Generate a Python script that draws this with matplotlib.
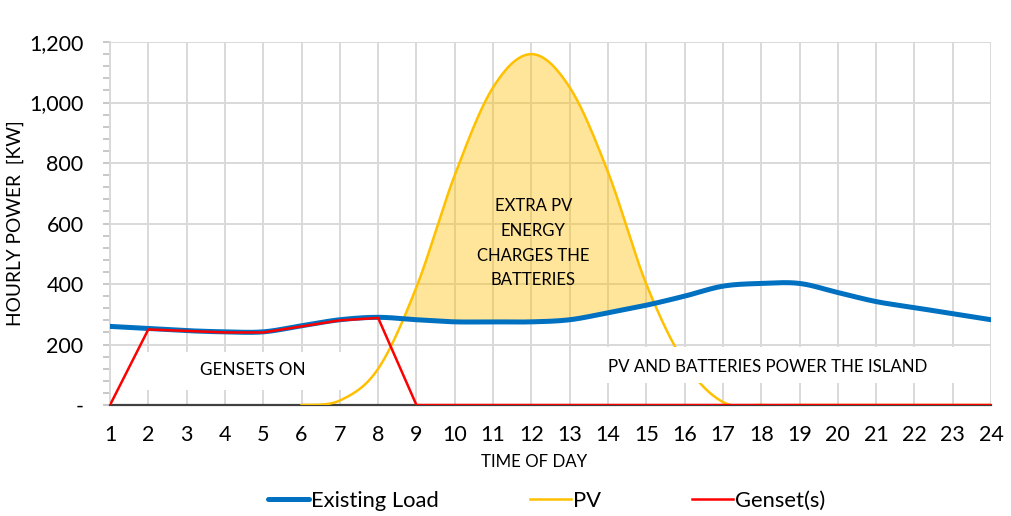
import numpy as np
import matplotlib
matplotlib.use("Agg")
import matplotlib.pyplot as plt
from matplotlib.patches import Rectangle
from matplotlib.ticker import FuncFormatter, MultipleLocator

plt.rcParams["font.family"] = ["Lato", "DejaVu Sans"]

# hourly values
hours = list(range(1, 25))
existing_load = [260, 253, 246, 242, 242, 262, 282, 290, 282, 275, 275, 275,
                 282, 305, 330, 360, 393, 402, 402, 372, 342, 322, 302, 282]
pv_hours = list(range(6, 25))
pv = [0, 15, 120, 390, 760, 1050, 1160, 1050, 770, 400, 140, 10,
      0, 0, 0, 0, 0, 0, 0]
genset = [0, 250, 245, 240, 240, 260, 280, 288, 0, 0, 0, 0,
          0, 0, 0, 0, 0, 0, 0, 0, 0, 0, 0, 0]

BLUE = "#0070C0"
YELLOW = "#FFC000"
RED = "#FF0000"
GRID = "#D9D9D9"


def smooth(x, y, n=30):
    """Catmull-Rom curve through the points, like Excel's smoothed line."""
    p = np.column_stack([x, y]).astype(float)
    p = np.vstack([p[0], p, p[-1]])
    out = []
    t = np.linspace(0, 1, n, endpoint=False)[:, None]
    for i in range(1, len(p) - 2):
        p0, p1, p2, p3 = p[i - 1], p[i], p[i + 1], p[i + 2]
        seg = 0.5 * (2 * p1 + (-p0 + p2) * t
                     + (2 * p0 - 5 * p1 + 4 * p2 - p3) * t ** 2
                     + (-p0 + 3 * p1 - 3 * p2 + p3) * t ** 3)
        out.append(seg)
    out.append(p[-2][None, :])
    out = np.vstack(out)
    return out[:, 0], out[:, 1]


fig = plt.figure(figsize=(10.12, 5.16), dpi=100)
ax = fig.add_axes([0.1087, 0.215, 0.8706, 0.7036])

lx, ly = smooth(hours, existing_load)
px, py = smooth(pv_hours, pv)
py_on_l = np.interp(lx, px, py, left=0, right=0)

ax.fill_between(lx, ly, py_on_l, where=py_on_l > ly, interpolate=True,
                color=YELLOW, alpha=0.4, linewidth=0, zorder=2)
ax.plot(lx, ly, color=BLUE, lw=3.6, solid_capstyle="round", zorder=4,
        label="Existing Load")
ax.plot(px, py, color=YELLOW, lw=1.8, zorder=3, label="PV")
ax.plot(hours, genset, color=RED, lw=1.8, zorder=5, label="Genset(s)")

# white label boxes
ax.add_patch(Rectangle((1.85, 50), 5.75, 125, facecolor="white",
                       edgecolor="none", zorder=1.5))
ax.text(4.73, 116, "GENSETS ON", ha="center", va="center", fontsize=12.3,
        zorder=6)
ax.add_patch(Rectangle((13.2, 73), 10.0, 119, facecolor="white",
                       edgecolor="none", zorder=3.5))
ax.text(18.18, 125, "PV AND BATTERIES POWER THE ISLAND", ha="center",
        va="center", fontsize=12.2, zorder=6)
ax.text(12.05, 535, "EXTRA PV\nENERGY\nCHARGES THE\nBATTERIES",
        ha="center", va="center", fontsize=12, linespacing=1.68, zorder=6)

ax.set_xlim(1, 24)
ax.set_ylim(0, 1200)
ax.set_xticks(hours)
ax.yaxis.set_major_locator(MultipleLocator(200))
ax.yaxis.set_minor_locator(MultipleLocator(40))
ax.yaxis.set_major_formatter(
    FuncFormatter(lambda v, _: "-" if v == 0 else f"{v:,.0f}"))
ax.grid(True, which="major", color=GRID, lw=1.4, zorder=0)
ax.set_axisbelow(True)
for s in ["top", "right"]:
    ax.spines[s].set_visible(False)
ax.spines["left"].set_color(GRID)
ax.spines["left"].set_linewidth(1.4)
ax.spines["bottom"].set_color("#404040")
ax.spines["bottom"].set_linewidth(1.6)
ax.spines["bottom"].set_zorder(2.5)

ax.tick_params(axis="x", length=0, pad=14, labelsize=15.5)
ax.tick_params(axis="y", which="both", length=5, color="#BFBFBF",
               width=1.2, pad=14, labelsize=15.5)

ax.set_xlabel("TIME OF DAY", fontsize=12.2, labelpad=7, x=0.481)
ax.set_ylabel("HOURLY POWER  [KW]", fontsize=13.8, labelpad=4)

leg = fig.legend(loc="center", bbox_to_anchor=(0.54, 0.03), ncol=3,
                 frameon=False, fontsize=15.8, handlelength=1.87,
                 handletextpad=0.1, columnspacing=4.15)

fig.savefig("out.png", dpi=100)
